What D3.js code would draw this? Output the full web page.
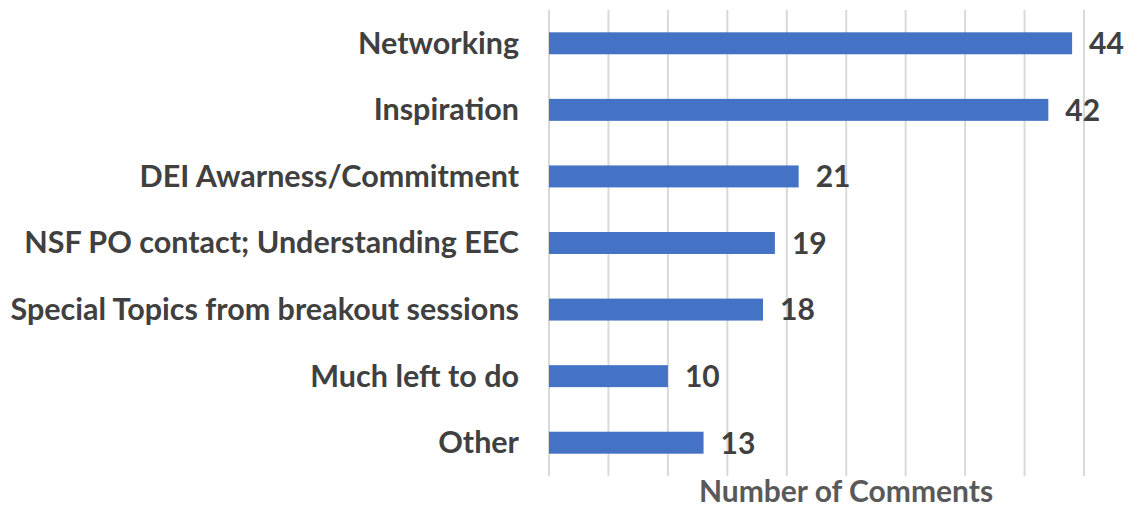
<!DOCTYPE html>
<html>
<head>
<meta charset="utf-8">
<script src="https://cdn.jsdelivr.net/npm/d3@7"></script>
<style>
  body { margin: 0; background: #fff; }
  svg text { font-family: Lato, "Open Sans", sans-serif; font-weight: bold; }
</style>
</head>
<body>
<div id="app"></div>
<script>
const categories = ["Networking", "Inspiration", "DEI Awarness/Commitment", "NSF PO contact; Understanding EEC",
  "Special Topics from breakout sessions", "Much left to do", "Other"]
const counts = [44, 42, 21, 19, 18, 10, 13]
const gridTicks = [0, 5, 10, 15, 20, 25, 30, 35, 40, 45]
const axisTitle = "Number of Comments"

const width = 1142
const height = 509
const plotLeft = 549, plotRight = 1084, plotTop = 10, plotBottom = 476

const svg = d3.select('#app').append('svg')
    .attr('width', width)
    .attr('height', height)

const x = d3.scaleLinear().domain([0, 45]).range([plotLeft, plotRight])
const y = d3.scaleBand().domain(categories).range([plotTop, plotBottom]).paddingInner(0.67).paddingOuter(0.335)

// vertical gridlines
svg.append('g').selectAll('line')
    .data(gridTicks)
    .enter().append('line')
    .attr('x1', d => x(d)).attr('x2', d => x(d))
    .attr('y1', plotTop).attr('y2', plotBottom)
    .attr('stroke', '#d9d9d9')
    .attr('stroke-width', 2)

svg.selectAll('rect.bar')
    .data(categories)
    .enter().append('rect')
    .attr('class', 'bar')
    .attr('x', x(0))
    .attr('y', d => y(d))
    .attr('width', (d, i) => x(counts[i]) - x(0))
    .attr('height', y.bandwidth())
    .attr('fill', '#4472c4')

// category labels
svg.selectAll('text.cat')
    .data(categories)
    .enter().append('text')
    .attr('class', 'cat')
    .attr('x', plotLeft - 30)
    .attr('y', d => y(d) + y.bandwidth() / 2)
    .attr('dy', '0.34em')
    .attr('text-anchor', 'end')
    .attr('fill', '#404040')
    .style('font-size', '30.5px')
    .text(d => d)

// value labels
svg.selectAll('text.val')
    .data(categories)
    .enter().append('text')
    .attr('class', 'val')
    .attr('x', (d, i) => x(counts[i]) + 17)
    .attr('y', d => y(d) + y.bandwidth() / 2)
    .attr('dy', '0.36em')
    .attr('fill', '#404040')
    .style('font-size', '30px')
    .text((d, i) => counts[i])

svg.append('text')
    .attr('x', 846)
    .attr('y', 502)
    .attr('text-anchor', 'middle')
    .attr('fill', '#595959')
    .style('font-size', '30px')
    .text(axisTitle)
</script>
</body>
</html>
